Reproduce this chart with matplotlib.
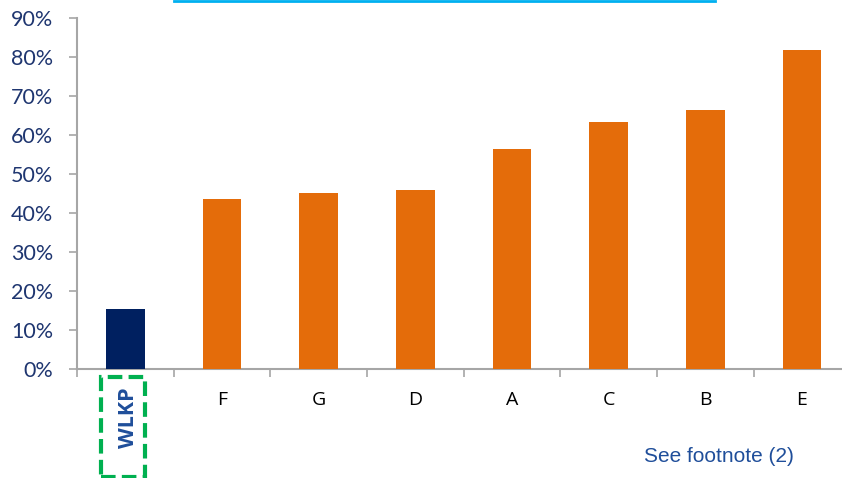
import matplotlib
matplotlib.use("Agg")
import matplotlib.pyplot as plt
from matplotlib.patches import Rectangle
from matplotlib.lines import Line2D

categories = ["WLKP", "F", "G", "D", "A", "C", "B", "E"]
values = [15.4, 43.6, 45.1, 45.9, 56.4, 63.3, 66.4, 81.8]
bar_colors = ["#002060"] + ["#E46C0A"] * 7
yticks = [0, 10, 20, 30, 40, 50, 60, 70, 80, 90]
ytick_labels = [f"{v}%" for v in yticks]
footnote = "See footnote (2)"

W, H = 842, 478
fig = plt.figure(figsize=(W / 100, H / 100), dpi=100)
ax = fig.add_axes([77 / W, 1 - 369 / H, 1 - 77 / W, (369 - 18) / H])

x = list(range(len(categories)))
ax.bar(x, values, width=0.40, color=bar_colors, zorder=3)

ax.set_ylim(0, 90)
ax.set_xlim(-0.5, 7.415)
ax.set_yticks(yticks)
ax.set_yticklabels(ytick_labels, fontsize=15.5, color="#1F3670", family=["Lato", "DejaVu Sans"])
ax.tick_params(axis="y", direction="out", length=6, width=1.2, color="#A6A6A6", pad=11)

# x ticks at category boundaries, labels via text
ax.set_xticks([i - 0.5 for i in range(len(categories))])
ax.set_xticklabels([])
ax.tick_params(axis="x", direction="out", length=6, width=1.2, color="#A6A6A6")

for s in ["top", "right"]:
    ax.spines[s].set_visible(False)
for s in ["left", "bottom"]:
    ax.spines[s].set_color("#A6A6A6")
    ax.spines[s].set_linewidth(1.5)

for i, c in enumerate(categories):
    if c == "WLKP":
        ax.text(i + 0.03, -12.5, c, rotation=90, ha="center", va="center", fontsize=15.5,
                fontweight="bold", color="#1F4E9A", family=["Open Sans", "DejaVu Sans"],
                clip_on=False)
    else:
        ax.text(i, -8, c, ha="center", va="center", fontsize=14, color="black",
                family=["Open Sans", "DejaVu Sans"], clip_on=False)

# dashed green box around WLKP
fig.add_artist(Rectangle((101 / W, 1 - 477 / H), (145 - 101) / W, (477 - 377) / H,
                         transform=fig.transFigure, fill=False, edgecolor="#00B050",
                         linewidth=3, linestyle=(0, (3.5, 1.5))))

# cyan line at top
fig.add_artist(Line2D([174 / W, 715 / W], [1 - 1 / H, 1 - 1 / H], transform=fig.transFigure,
                      color="#00B0F0", linewidth=2))

fig.text(719 / W, 1 - 457 / H, footnote, ha="center", va="center", fontsize=15,
         color="#1F4E9A", family=["Liberation Sans", "DejaVu Sans"])

fig.savefig("out.png", dpi=100)
